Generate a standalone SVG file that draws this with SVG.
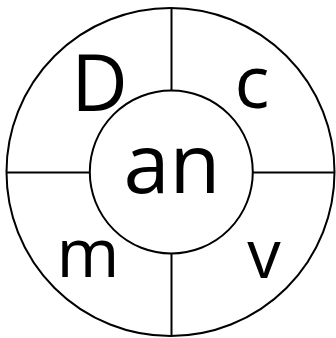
<svg xmlns="http://www.w3.org/2000/svg" width="336" height="338" viewBox="0 0 336 338">
<style>
.ln{stroke:#000;stroke-width:2;fill:none}
.t{font-family:"Open Sans","Noto Sans",sans-serif;fill:#000;text-anchor:middle}
</style>
<rect width="336" height="338" fill="#fff"/>
<g id="connectors">
<line class="ln" x1="171.5" y1="8" x2="171.5" y2="90"/>
<line class="ln" x1="171.5" y1="254" x2="171.5" y2="336"/>
<line class="ln" x1="6.5" y1="172.5" x2="89" y2="172.5"/>
<line class="ln" x1="253" y1="172.5" x2="334.5" y2="172.5"/>
</g>
<g id="outer"><circle class="ln" cx="170.5" cy="172" r="164"/></g>
<g id="inner"><circle class="ln" cx="171.3" cy="172" r="81.5"/>
<text class="t" x="172" y="193" font-size="83">an</text></g>
<g id="D"><text class="t" x="99.5" y="111" font-size="78">D</text></g>
<g id="c"><text class="t" x="252" y="108" font-size="73">c</text></g>
<g id="m"><text class="t" x="88" y="277" font-size="68">m</text></g>
<g id="v"><text class="t" x="264" y="278" font-size="67">v</text></g>
</svg>
